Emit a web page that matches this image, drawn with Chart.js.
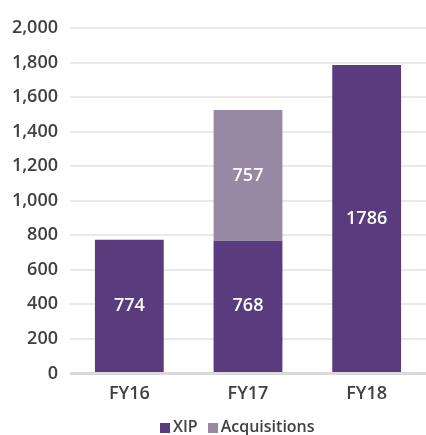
<!DOCTYPE html>
<html>
<head>
<meta charset="utf-8">
<script src="https://cdn.jsdelivr.net/npm/chart.js@4/dist/chart.umd.min.js"></script>
<style>
  html, body { margin: 0; padding: 0; background: #fff; overflow: hidden; }
  #wrap { position: relative; width: 426px; height: 435px; overflow: hidden; }
  #chart { display: block; }
  #legend { position: absolute; left: 160px; top: 417px; height: 19px; display: flex; align-items: center;
            font: 600 16px 'Open Sans', sans-serif; color: #404040; line-height: 19px; }
  #legend .sw { display: inline-block; width: 10px; height: 10px; margin-right: 3px; margin-top: 2px; }
  #legend .item { display: flex; align-items: center; margin-right: 10px; }
</style>
</head>
<body>
<div id="wrap">
  <canvas id="chart" width="426" height="421"></canvas>
  <div id="legend"></div>
</div>
<script>
const categories = ['FY16', 'FY17', 'FY18'];
const seriesNames = ['XIP', 'Acquisitions'];
const xipValues = [774, 768, 1786];
const acqValues = [null, 757, null];
const yTicks = [0, 200, 400, 600, 800, 1000, 1200, 1400, 1600, 1800, 2000];
const seriesColors = ['#5a3b7d', '#9788a4'];

const FONT = "'Open Sans', sans-serif";

// white value labels in the middle of each segment
const barLabels = {
    id: 'barLabels',
    afterDatasetsDraw(chart) {
        const ctx = chart.ctx;
        ctx.save();
        ctx.fillStyle = '#ffffff';
        ctx.font = '600 18px ' + FONT;
        ctx.textAlign = 'center';
        ctx.textBaseline = 'middle';
        chart.data.datasets.forEach((ds, i) => {
            chart.getDatasetMeta(i).data.forEach((bar, j) => {
                const v = ds.data[j];
                if (v == null) return;
                const p = bar.getProps(['x', 'y', 'base'], true);
                ctx.fillText(String(v), p.x, (p.y + p.base) / 2);
            });
        });
        ctx.restore();
    }
};

const chart = new Chart(document.getElementById('chart'), {
    type: 'bar',
    data: {
        labels: categories,
        datasets: [
            { label: seriesNames[0], data: xipValues, backgroundColor: seriesColors[0] },
            { label: seriesNames[1], data: acqValues, backgroundColor: seriesColors[1] }
        ]
    },
    options: {
        responsive: false,
        animation: false,
        devicePixelRatio: 1,
        layout: { padding: { top: 28, right: 0, left: 0, bottom: 6 } },
        datasets: { bar: { categoryPercentage: 1, barPercentage: 0.58 } },
        scales: {
            x: {
                stacked: true,
                grid: { display: false, drawTicks: false },
                border: { display: false },
                ticks: { color: '#404040', font: { family: FONT, size: 18, weight: 600 }, padding: 10 }
            },
            y: {
                stacked: true,
                min: 0,
                max: 2000,
                afterBuildTicks: axis => { axis.ticks = yTicks.map(v => ({ value: v })); },
                afterFit: axis => { axis.width = 70; },
                grid: {
                    drawTicks: false,
                    color: ctx => ctx.tick && ctx.tick.value === 0 ? '#d9d9d9' : '#e9e9e9',
                    lineWidth: ctx => ctx.tick && ctx.tick.value === 0 ? 3 : 2
                },
                border: { display: false },
                ticks: {
                    color: '#404040',
                    font: { family: FONT, size: 18, weight: 600 },
                    padding: 12,
                    callback: v => v.toLocaleString('en-US')
                }
            }
        },
        plugins: {
            legend: { display: false },
            tooltip: { enabled: false }
        }
    },
    plugins: [barLabels]
});

// legend built from the chart's datasets
document.getElementById('legend').innerHTML = chart.data.datasets.map(ds =>
    `<span class="item"><span class="sw" style="background:${ds.backgroundColor}"></span>${ds.label}</span>`
).join('');
</script>
</body>
</html>
